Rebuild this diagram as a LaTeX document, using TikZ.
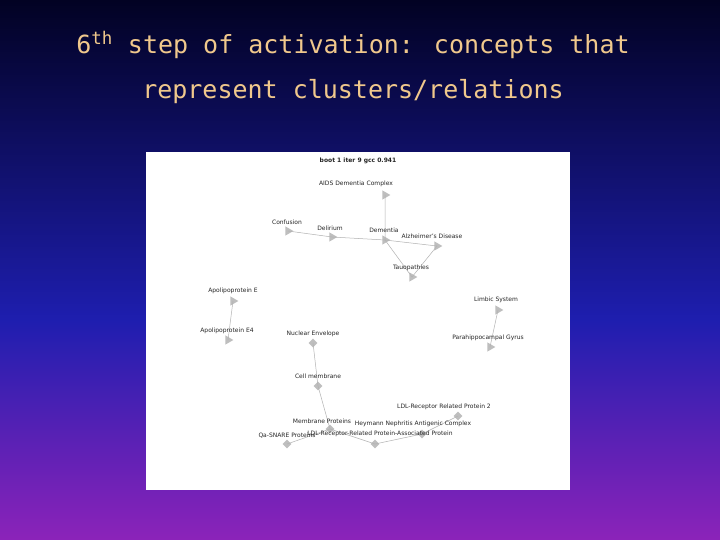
\documentclass[tikz,border=0pt]{standalone}
\usepackage{fontspec}
\setmainfont{DejaVu Sans}
\newfontfamily\titlefont{DejaVu Sans Mono}
\usetikzlibrary{shapes.geometric}
\definecolor{topc}{RGB}{2,2,35}
\definecolor{midc}{RGB}{30,30,175}
\definecolor{botc}{RGB}{140,35,185}
\definecolor{titlec}{RGB}{240,200,140}
\definecolor{mk}{RGB}{190,190,190}
\begin{document}
\begin{tikzpicture}[x=1pt,y=-1pt,
  tri/.style={isosceles triangle,isosceles triangle apex angle=60,fill=mk,inner sep=0pt,minimum width=9pt,minimum height=8pt,anchor=center},
  dia/.style={diamond,fill=mk,inner sep=0pt,minimum size=9pt},
  lab/.style={font=\fontsize{6}{7}\selectfont,inner sep=0pt,text=black!85},
  edge/.style={draw=black!30,line width=0.5pt}]
\shade[top color=topc,bottom color=midc] (0,0) rectangle (720,320.5);
\shade[top color=midc,bottom color=botc] (0,320) rectangle (720,540);
\useasboundingbox (0,0) rectangle (720,540);
\node[text=titlec,font=\titlefont\fontsize{25}{30}\selectfont] (t1) at (353,45) {6\textsuperscript{th} step of activation: concepts that};
\node[text=titlec,font=\titlefont\fontsize{25}{30}\selectfont] (t2) at (353,92) {represent clusters/relations};
\fill[white] (146,152) rectangle (570,490);
\node[lab,font=\bfseries\fontsize{6}{7}\selectfont] (hd) at (358,161) {boot 1 iter 9 gcc 0.941};
% markers
\node[tri] (aids) at (385,195) {};
\node[tri] (conf) at (288,231) {};
\node[tri] (deli) at (332,237) {};
\node[tri] (dem) at (385,240) {};
\node[tri] (alz) at (437,246) {};
\node[tri] (tau) at (412,277) {};
\node[tri] (apoe) at (233,301) {};
\node[tri] (apoe4) at (228,340) {};
\node[tri] (limb) at (498,310) {};
\node[tri] (para) at (490,347) {};
\node[dia] (nuc) at (313,343) {};
\node[dia] (cell) at (318,386) {};
\node[dia] (memb) at (330,429) {};
\node[dia] (snare) at (287,444) {};
\node[dia] (lrpap) at (375,444) {};
\node[dia] (heym) at (422,434) {};
\node[dia] (ldl) at (458,416) {};
% edges
\draw[edge] (conf.center) -- (deli.center) -- (dem.center) -- (aids.center);
\draw[edge] (dem.center) -- (alz.center);
\draw[edge] (tau.center) -- (dem.center);
\draw[edge] (tau.center) -- (alz.center);
\draw[edge] (apoe.center) -- (apoe4.center);
\draw[edge] (limb.center) -- (para.center);
\draw[edge] (nuc.center) -- (cell.center) -- (memb.center) -- (snare.center);
\draw[edge] (memb.center) -- (lrpap.center) -- (heym.center) -- (ldl.center);
% labels
\node[lab] (laids) at (356,184) {AIDS Dementia Complex};
\node[lab] (lconf) at (287,222) {Confusion};
\node[lab] (ldeli) at (330,228) {Delirium};
\node[lab] (ldem) at (384,230) {Dementia};
\node[lab] (lalz) at (432,236) {Alzheimer's Disease};
\node[lab] (ltau) at (411,268) {Tauopathies};
\node[lab] (lapoe) at (233,291) {Apolipoprotein E};
\node[lab] (lapoe4) at (227,331) {Apolipoprotein E4};
\node[lab] (llimb) at (496,300) {Limbic System};
\node[lab] (lpara) at (488,338) {Parahippocampal Gyrus};
\node[lab] (lnuc) at (313,334) {Nuclear Envelope};
\node[lab] (lcell) at (318,376) {Cell membrane};
\node[lab] (lldl) at (444,407) {LDL-Receptor Related Protein 2};
\node[lab] (lmemb) at (322,421) {Membrane Proteins};
\node[lab] (lheym) at (413,424) {Heymann Nephritis Antigenic Complex};
\node[lab] (lsnare) at (287,436) {Qa-SNARE Proteins};
\node[lab] (llrpap) at (380,434) {LDL-Receptor-Related Protein-Associated Protein};
\end{tikzpicture}
\end{document}
